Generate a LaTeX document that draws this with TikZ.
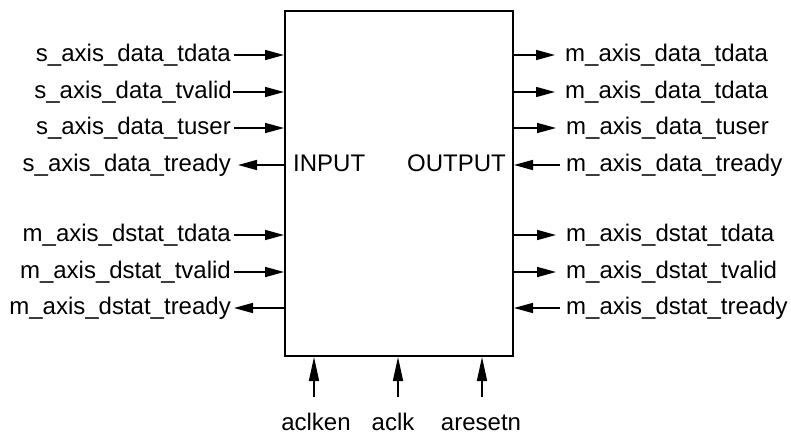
\documentclass[tikz,border=0pt]{standalone}
\usepackage{fontspec}
\setmainfont{Liberation Sans}
\usepackage{tikz}
\usetikzlibrary{positioning,calc,arrows.meta}

\tikzset{
    sig/.style={line width=1.6pt, -{Triangle[length=19pt,width=10pt]}},
    sigup/.style={line width=1.6pt, -{Triangle[length=24pt,width=10pt]}},
    lbl/.style={inner sep=0pt},
}

\begin{document}
\fontsize{24}{28}\selectfont
\begin{tikzpicture}[x=1pt,y=-1pt]
    \useasboundingbox (0,0) rectangle (791,436);

    % Block
    \node[draw, line width=2pt, minimum width=228pt, minimum height=345pt, inner sep=0pt, anchor=north west] (box) at (284,10) {};
    \node[lbl, anchor=mid west] (in) at (293,165) {INPUT};
    \node[lbl, anchor=mid east] (out) at (506,165) {OUTPUT};

    % Left side signals
    \node[lbl, anchor=mid east] (L1) at (231,55) {s\_axis\_data\_tdata};
    \node[lbl, anchor=mid east] (L2) at (232,92) {s\_axis\_data\_tvalid};
    \node[lbl, anchor=mid east] (L3) at (231,128) {s\_axis\_data\_tuser};
    \node[lbl, anchor=mid east] (L4) at (231,165) {s\_axis\_data\_tready};
    \node[lbl, anchor=mid east] (L5) at (231,235) {m\_axis\_dstat\_tdata};
    \node[lbl, anchor=mid east] (L6) at (231,272) {m\_axis\_dstat\_tvalid};
    \node[lbl, anchor=mid east] (L7) at (231,308) {m\_axis\_dstat\_tready};

    % Right side signals
    \node[lbl, anchor=mid west] (R1) at (565,55) {m\_axis\_data\_tdata};
    \node[lbl, anchor=mid west] (R2) at (565,92) {m\_axis\_data\_tdata};
    \node[lbl, anchor=mid west] (R3) at (566,128) {m\_axis\_data\_tuser};
    \node[lbl, anchor=mid west] (R4) at (566,165) {m\_axis\_data\_tready};
    \node[lbl, anchor=mid west] (R5) at (566,235) {m\_axis\_dstat\_tdata};
    \node[lbl, anchor=mid west] (R6) at (566,272) {m\_axis\_dstat\_tvalid};
    \node[lbl, anchor=mid west] (R7) at (566,308) {m\_axis\_dstat\_tready};

    % Bottom signals
    \node[lbl, anchor=base] (B1) at (316,430) {aclken};
    \node[lbl, anchor=base] (B2) at (393,430) {aclk};
    \node[lbl, anchor=base] (B3) at (481,430) {aresetn};
    \coordinate (b1) at (314,397);
    \coordinate (b2) at (398,397);
    \coordinate (b3) at (482,397);

    % Connections
    \draw [sig, shorten <=3pt] (L1.mid east) -- (L1.mid east -| box.west);
    \draw [sig, shorten <=1pt] (L2.mid east) -- (L2.mid east -| box.west);
    \draw [sig, shorten <=3pt] (L3.mid east) -- (L3.mid east -| box.west);
    \draw [sig, shorten >=7pt] (L4.mid east -| box.west) -- (L4.mid east);
    \draw [sig, shorten <=3pt] (L5.mid east) -- (L5.mid east -| box.west);
    \draw [sig, shorten <=3pt] (L6.mid east) -- (L6.mid east -| box.west);
    \draw [sig, shorten >=3pt] (L7.mid east -| box.west) -- (L7.mid east);

    \draw [sig, shorten >=10pt] (R1.mid west -| box.east) -- (R1.mid west);
    \draw [sig, shorten >=10pt] (R2.mid west -| box.east) -- (R2.mid west);
    \draw [sig, shorten >=10pt] (R3.mid west -| box.east) -- (R3.mid west);
    \draw [sig, shorten <=6pt] (R4.mid west) -- (R4.mid west -| box.east);
    \draw [sig, shorten >=10pt] (R5.mid west -| box.east) -- (R5.mid west);
    \draw [sig, shorten >=10pt] (R6.mid west -| box.east) -- (R6.mid west);
    \draw [sig, shorten <=6pt] (R7.mid west) -- (R7.mid west -| box.east);

    \draw [sigup] (b1) -- (b1 |- box.south);
    \draw [sigup] (b2) -- (b2 |- box.south);
    \draw [sigup] (b3) -- (b3 |- box.south);
\end{tikzpicture}
\end{document}
